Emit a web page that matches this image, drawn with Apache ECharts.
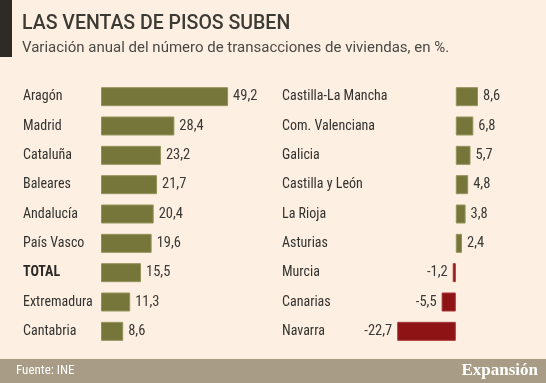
<!DOCTYPE html>
<html><head><meta charset="utf-8">
<script src="https://cdn.jsdelivr.net/npm/echarts@6/dist/echarts.min.js"></script>
<style>html,body{margin:0;padding:0;background:#fdf0e2;}#c{width:546px;height:383px;}</style>
</head><body><div id="c"></div>
<script>
const leftCategories = ['Aragón','Madrid','Cataluña','Baleares','Andalucía','País Vasco','TOTAL','Extremadura','Cantabria'];
const leftValues = [49.2, 28.4, 23.2, 21.7, 20.4, 19.6, 15.5, 11.3, 8.6];
const rightCategories = ['Castilla-La Mancha','Com. Valenciana','Galicia','Castilla y León','La Rioja','Asturias','Murcia','Canarias','Navarra'];
const rightValues = [8.6, 6.8, 5.7, 4.8, 3.8, 2.4, -1.2, -5.5, -22.7];

const NARROW = '"Roboto Condensed", "Liberation Sans Narrow", sans-serif';
const fmt = v => String(v).replace('.', ',');
const posCol = '#77763a', negCol = '#8e1315';

function yAxisCfg(gi, cats, margin) {
  return {
    type: 'category', gridIndex: gi, data: cats, inverse: true,
    axisLine: {show: false}, axisTick: {show: false},
    axisLabel: {
      align: 'left', margin: margin, color: '#33322e', fontSize: 14, fontFamily: NARROW,
      formatter: v => v === 'TOTAL' ? '{b|TOTAL}' : v,
      rich: {b: {fontWeight: 'bold', fontSize: 14, fontFamily: NARROW, color: '#2a2925'}}
    }
  };
}
function seriesData(vals) {
  return vals.map(v => ({
    value: v,
    itemStyle: {color: v < 0 ? negCol : posCol, borderColor: v < 0 ? '#a8373a' : '#93925c', borderWidth: 1},
    label: {position: v < 0 ? 'left' : 'right'}
  }));
}
const labelCfg = {show: true, distance: 5, color: '#3a3935', fontSize: 14.5, fontFamily: NARROW, formatter: p => fmt(p.value)};

const chart = echarts.init(document.getElementById('c'), null, {renderer: 'canvas'});
chart.setOption({
  backgroundColor: '#fdf0e2',
  animation: false,
  grid: [
    {left: 101, top: 82, width: 155, height: 264},
    {left: 378.4, top: 82, width: 154.8, height: 264}
  ],
  xAxis: [
    {type: 'value', gridIndex: 0, min: 0, max: 60, show: false},
    {type: 'value', gridIndex: 1, min: -30, max: 30, show: false}
  ],
  yAxis: [yAxisCfg(0, leftCategories, 78), yAxisCfg(1, rightCategories, 96.4)],
  series: [
    {type: 'bar', xAxisIndex: 0, yAxisIndex: 0, barWidth: 19, data: seriesData(leftValues), label: labelCfg},
    {type: 'bar', xAxisIndex: 1, yAxisIndex: 1, barWidth: 19, data: seriesData(rightValues), label: labelCfg}
  ],
  graphic: [
    {type: 'rect', shape: {x: 0, y: 0, width: 12, height: 57}, style: {fill: '#2e2a25'}},
    {type: 'text', x: 22, y: 14, style: {text: 'LAS VENTAS DE PISOS SUBEN', font: '500 19.5px Roboto, sans-serif', fill: '#3b3a33'}},
    {type: 'text', x: 22, y: 41, style: {text: 'Variación anual del número de transacciones de viviendas, en %.', font: '15px Roboto, sans-serif', fill: '#4a4943'}},
    {type: 'rect', shape: {x: 0, y: 359, width: 546, height: 24}, style: {fill: '#a99c86'}},
    {type: 'text', x: 16, y: 371, style: {text: 'Fuente: INE', font: '13px ' + NARROW, fill: '#ffffff', verticalAlign: 'middle'}},
    {type: 'text', x: 538, y: 371, style: {text: 'Expansión', font: 'bold 17px "Liberation Serif", "DejaVu Serif", serif', fill: '#ffffff', align: 'right', verticalAlign: 'middle'}}
  ]
});
</script></body></html>
